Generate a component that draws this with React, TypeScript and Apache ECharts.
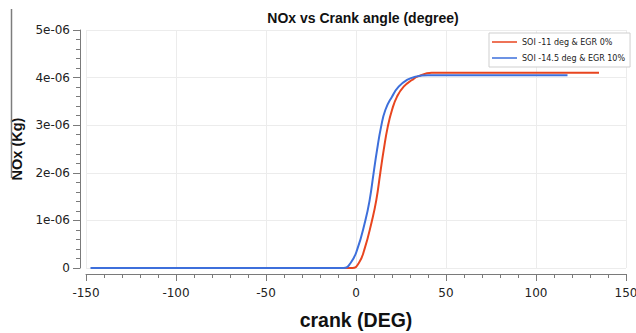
import React, { useEffect, useRef } from "react";
import * as echarts from "echarts";

// Crank angle (deg) and cumulative NOx (kg) for each injection case
const soi11Crank = [-130, -2, 1.5, 4.6, 8.9, 11.3, 13.5, 15.4, 17.6, 20.0, 22.8, 26.5, 31.1, 34.8, 42, 135];
const soi11Nox = [0, 0, 0.1e-6, 0.38e-6, 1.0e-6, 1.43e-6, 2.0e-6, 2.48e-6, 2.96e-6, 3.32e-6, 3.6e-6, 3.81e-6, 3.95e-6, 4.03e-6, 4.1e-6, 4.1e-6];

const soi145Crank = [-147.5, -7, -3.1, 0.6, 5.2, 7.6, 9.8, 11.7, 13.9, 16.3, 20.0, 23.7, 28.3, 33, 40, 117.5];
const soi145Nox = [0, 0, 0.1e-6, 0.38e-6, 1.0e-6, 1.43e-6, 2.0e-6, 2.48e-6, 2.96e-6, 3.32e-6, 3.6e-6, 3.81e-6, 3.95e-6, 4.02e-6, 4.05e-6, 4.05e-6];

const seriesNames = ["SOI -11 deg & EGR 0%", "SOI -14.5 deg & EGR 10%"];
const seriesColors = ["#e8451f", "#3d6fdb"];

const pairs = (xs: number[], ys: number[]) => xs.map((x, i) => [x, ys[i]]);

const fmtExp = (v: number) => {
  if (v === 0) return "0";
  return Number(v.toPrecision(6))
    .toExponential()
    .replace(/e([+-])(\d)$/, "e$10$2");
};

export default function App() {
  const ref = useRef<HTMLDivElement>(null);

  useEffect(() => {
    if (!ref.current) return;
    document.body.style.margin = "0";
    const chart = echarts.init(ref.current, null, { renderer: "svg", width: 636, height: 333 });
    const axisGray = "#7a7a7a";
    const font = "DejaVu Sans";
    const boldFont = "Liberation Sans";
    chart.setOption({
      animation: false,
      backgroundColor: "#ffffff",
      title: {
        text: "NOx vs Crank angle (degree)",
        left: 358,
        textAlign: "center",
        top: 6,
        textStyle: { fontFamily: boldFont, fontWeight: "bold", fontSize: 14, color: "#111" },
      },
      legend: {
        orient: "vertical",
        left: 489,
        top: 33,
        data: seriesNames,
        icon: "rect",
        itemWidth: 25,
        itemHeight: 1.5,
        itemGap: 8,
        padding: [5, 5, 5, 3],
        borderColor: "#cfcfcf",
        borderWidth: 1,
        backgroundColor: "#fff",
        textStyle: { fontFamily: font, fontSize: 8, color: "#222" },
      },
      grid: {
        left: 86,
        right: 10,
        top: 30,
        bottom: 65,
        containLabel: false,
        outerBoundsMode: "none",
      },
      xAxis: {
        type: "value",
        min: -150,
        max: 150,
        interval: 50,
        offset: 6,
        name: "crank (DEG)",
        nameLocation: "middle",
        nameGap: 36,
        nameTextStyle: { fontFamily: boldFont, fontWeight: "bold", fontSize: 19.5, color: "#111" },
        axisLine: { show: true, onZero: false, lineStyle: { color: axisGray, width: 1 } },
        axisTick: { show: true, length: 7, lineStyle: { color: axisGray } },
        minorTick: { show: true, splitNumber: 5, length: 4, lineStyle: { color: axisGray } },
        axisLabel: { fontFamily: font, fontSize: 12, color: "#222", margin: 13 },
        splitLine: { show: true, lineStyle: { color: "#ececec", width: 1 } },
      },
      yAxis: {
        type: "value",
        min: 0,
        max: 5e-6,
        interval: 1e-6,
        offset: 6,
        name: "NOx (Kg)",
        nameLocation: "middle",
        nameGap: 56,
        nameRotate: 90,
        nameTextStyle: { fontFamily: boldFont, fontWeight: "bold", fontSize: 14.5, color: "#111" },
        axisLine: { show: true, onZero: false, lineStyle: { color: axisGray, width: 1 } },
        axisTick: { show: true, length: 7, lineStyle: { color: axisGray } },
        minorTick: { show: true, splitNumber: 5, length: 4, lineStyle: { color: axisGray } },
        axisLabel: { fontFamily: font, fontSize: 12, color: "#222", margin: 10, formatter: fmtExp },
        splitLine: { show: true, lineStyle: { color: "#ececec", width: 1 } },
      },
      graphic: [
        {
          type: "line",
          shape: { x1: 11.5, y1: 9, x2: 11.5, y2: 178 },
          style: { stroke: "#7d7d7d", lineWidth: 1.5 },
          z: 100,
        },
      ],
      series: [
        {
          name: seriesNames[0],
          type: "line",
          data: pairs(soi11Crank, soi11Nox),
          showSymbol: false,
          smooth: 0.5,
          lineStyle: { color: seriesColors[0], width: 2 },
          itemStyle: { color: seriesColors[0] },
        },
        {
          name: seriesNames[1],
          type: "line",
          data: pairs(soi145Crank, soi145Nox),
          showSymbol: false,
          smooth: 0.5,
          lineStyle: { color: seriesColors[1], width: 2 },
          itemStyle: { color: seriesColors[1] },
        },
      ],
    });
    return () => chart.dispose();
  }, []);

  return <div ref={ref} style={{ width: 636, height: 333, background: "#fff" }} />;
}
